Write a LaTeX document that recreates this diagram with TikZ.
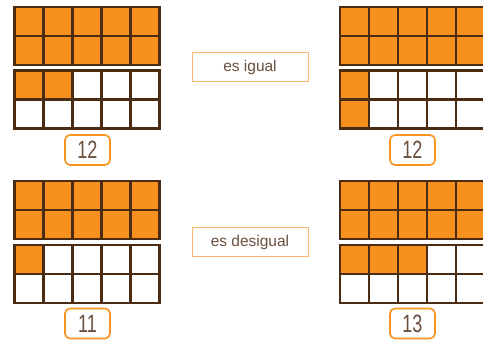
\documentclass[tikz,border=0pt]{standalone}
\usepackage{fontspec}
\setmainfont{Liberation Sans}
\usepackage{tikz}
\definecolor{FrameBrown}{HTML}{4A2C12}
\definecolor{CellOrange}{HTML}{F7901E}
\definecolor{NumOrange}{HTML}{F7931E}
\definecolor{TagOrange}{HTML}{FBB86E}
\definecolor{TextBrown}{HTML}{6B4F3F}

% ten-frame: origin x, origin y, filled cells as col/row
\newcommand{\tenframe}[3]{%
  \foreach \c/\r in {#3}
    \fill[CellOrange] ({#1+\c*29},{#2+\r*29}) rectangle ++(29,29);
  \foreach \c in {0,...,4}
    \foreach \r in {0,1}
      \draw[cell] ({#1+\c*29},{#2+\r*29}) rectangle ++(29,29);
}

\begin{document}
\begin{tikzpicture}[x=1pt,y=-1pt,
        cell/.style={draw=FrameBrown, line width=2.8pt},
        numbox/.style={draw=NumOrange, line width=1.6pt, rounded corners=5pt,
            minimum width=45pt, minimum height=30pt, inner sep=0pt,
            text=TextBrown, font=\fontsize{25}{25}\selectfont},
        tagbox/.style={draw=TagOrange, line width=1pt,
            minimum width=116pt, minimum height=29pt, inner sep=0pt,
            text=TextBrown, font=\fontsize{15.5}{16}\selectfont},
      ]
      \useasboundingbox (0,0) rectangle (483,342);
      \fill[white] (0,0) rectangle (483,342);
      \clip (0,0) rectangle (483,342);

      % Frames, top pair
      \tenframe{14.5}{7}{0/0,1/0,2/0,3/0,4/0,0/1,1/1,2/1,3/1,4/1}
      \tenframe{14.5}{70.7}{0/0,1/0}
      \tenframe{340}{7}{0/0,1/0,2/0,3/0,4/0,0/1,1/1,2/1,3/1,4/1}
      \tenframe{340}{70.7}{0/0,0/1}

      % Frames, bottom pair
      \tenframe{14.5}{181}{0/0,1/0,2/0,3/0,4/0,0/1,1/1,2/1,3/1,4/1}
      \tenframe{14.5}{245}{0/0}
      \tenframe{340}{181}{0/0,1/0,2/0,3/0,4/0,0/1,1/1,2/1,3/1,4/1}
      \tenframe{340}{245}{0/0,1/0,2/0}

      % Number boxes
      \node[numbox] (numTL) at (87.5,150) {\scalebox{0.72}[1]{12}};
      \node[numbox] (numTR) at (412.5,150) {\scalebox{0.72}[1]{12}};
      \node[numbox] (numBL) at (87.5,323.5) {\scalebox{0.72}[1]{11}};
      \node[numbox] (numBR) at (412.5,323.5) {\scalebox{0.72}[1]{13}};

      % Comparison tags
      \node[tagbox] (same) at (250,67.5) {es igual};
      \node[tagbox] (diff) at (250,242) {es desigual};

    \end{tikzpicture}
\end{document}
